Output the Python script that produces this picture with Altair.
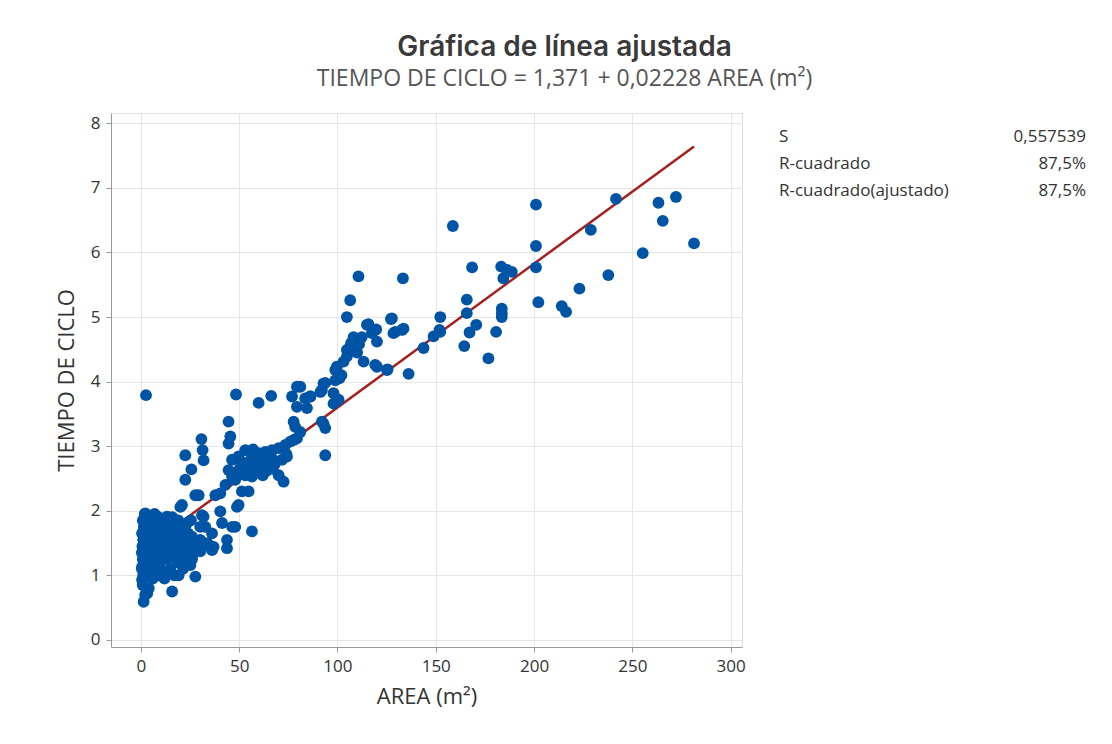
import altair as alt
import pandas as pd

# ---- data ----
area = [
    158.7, 201.0, 241.7, 263.3, 272.2, 265.5, 228.9, 281.4, 201.0, 255.3,
    168.5, 183.3, 186.2, 188.7, 184.4, 201.0, 237.8, 223.1, 202.2, 214.1,
    216.3, 165.8, 165.8, 183.6, 183.6, 183.6, 170.6, 167.2, 180.7, 164.5,
    176.8, 152.3, 152.3, 143.8, 148.9, 151.9,
    110.7, 133.3, 106.5, 104.8, 127.2, 115.8, 119.7, 129.4, 133.6, 108.2,
    112.4, 117.5, 120.1, 106.5, 104.8, 104.8, 103.1, 99.7, 98.9, 113.3,
    119.2, 125.5, 136.2, 93.8, 92.1, 98.0, 98.0, 86.2, 84.5, 81.1, 92.9,
    115.0, 119.2, 127.7, 128.5, 132.8, 120.1, 125.2, 101.0, 102.0, 107.0,
    109.0, 111.0, 110.0,
    48.4, 59.9, 66.3, 79.4, 76.9, 79.4, 83.6, 86.2, 92.9, 98.9, 100.6,
    91.3, 77.7, 78.5, 81.1, 79.4, 92.1, 93.8, 93.8, 44.6, 45.5, 44.6,
    53.1, 49.7, 46.4, 56.5, 59.9, 63.3, 66.7, 70.1, 73.5, 76.0, 74.3,
    71.8, 53.1, 56.5, 59.9, 63.3, 66.7, 49.7, 53.1, 56.5, 48.0, 46.4,
    72.6, 70.1, 51.4, 54.8, 49.7, 44.6, 43.0, 55.0, 58.0, 61.0, 65.0,
    68.0, 62.0, 51.0, 57.0, 60.0, 64.0, 67.0, 74.0, 78.0,
    2.6, 22.6, 25.7, 22.6, 30.8, 31.4, 31.9, 29.4, 37.9, 40.4,
    40.4, 48.9, 48.0, 56.5, 43.8, 43.8, 37.0, 36.2, 31.9, 30.2, 27.7,
    15.9, 1.4, 20.1, 23.5, 27.7, 20.9, 31.1, 26.0, 28.6, 30.2, 33.7,
    22.6, 25.2, 11.6, 19.2, 3.2, 0.6, 0.6, 2.3, 4.8, 8.2, 13.3, 16.7,
    32.8, 36.2, 41.3, 46.4, 34.5, 26.0, 30.2, 24.3,
    0.5, 0.8, 1.0, 1.2, 0.6, 1.5, 1.0, 2.0, 1.8, 0.9, 2.2, 1.5, 3.0,
    3.5, 2.8, 4.0, 4.5, 3.8, 5.0, 5.5, 6.0, 6.5, 5.8, 7.0, 7.5, 8.0,
    8.5, 9.0, 9.5, 10.0, 10.5, 11.0, 11.5, 12.0, 12.5, 13.0, 13.5, 14.0,
    14.5, 15.0, 15.5, 16.0, 16.5, 17.0, 17.5, 18.0, 18.5, 19.0, 19.5,
    20.0, 21.0, 21.5, 22.0, 23.0, 24.0, 24.5, 25.5, 26.0, 27.0, 9.0,
    12.0, 6.0, 4.0, 2.5, 3.0, 8.0, 10.0, 14.0, 16.0, 18.0, 20.0, 7.0,
    2.0, 1.2, 0.5,
]
tiempo = [
    6.41, 6.74, 6.83, 6.77, 6.86, 6.49, 6.35, 6.14, 6.10, 5.99,
    5.77, 5.78, 5.73, 5.70, 5.60, 5.77, 5.65, 5.44, 5.23, 5.17,
    5.08, 5.27, 5.06, 5.13, 5.06, 5.00, 4.88, 4.76, 4.77, 4.55,
    4.36, 5.00, 4.77, 4.52, 4.70, 4.80,
    5.63, 5.60, 5.26, 5.00, 4.97, 4.89, 4.81, 4.77, 4.82, 4.69,
    4.69, 4.75, 4.62, 4.54, 4.49, 4.39, 4.31, 4.23, 4.18, 4.31,
    4.26, 4.19, 4.12, 3.98, 3.87, 3.82, 3.66, 3.77, 3.59, 3.92, 3.35,
    4.88, 4.80, 4.98, 4.75, 4.80, 4.23, 4.18, 4.05, 4.10, 4.60,
    4.62, 4.58, 4.45,
    3.80, 3.67, 3.78, 3.92, 3.77, 3.61, 3.74, 3.77, 3.97, 4.02, 3.72,
    3.84, 3.38, 3.30, 3.22, 3.12, 3.38, 3.28, 2.86, 3.38, 3.15, 3.04,
    2.94, 2.84, 2.79, 2.84, 2.89, 2.91, 2.94, 2.97, 3.02, 3.07, 2.84,
    2.79, 2.74, 2.68, 2.74, 2.79, 2.81, 2.63, 2.55, 2.53, 2.48, 2.53,
    2.45, 2.55, 2.30, 2.30, 2.09, 2.63, 2.40, 2.62, 2.60, 2.65, 2.70,
    2.72, 2.55, 2.70, 2.95, 2.78, 2.62, 2.65, 2.88, 3.10,
    3.79, 2.86, 2.64, 2.48, 3.11, 2.94, 2.78, 2.24, 2.24, 2.27,
    1.99, 2.06, 1.75, 1.68, 1.55, 1.42, 1.44, 1.39, 1.91, 1.75, 0.98,
    0.75, 0.59, 2.06, 1.81, 2.24, 2.09, 1.93, 1.60, 1.44, 1.55, 1.50,
    1.21, 1.16, 0.98, 1.00, 0.72, 1.13, 0.93, 1.96, 1.91, 1.86, 1.91, 1.86,
    1.75, 1.65, 1.81, 1.75, 1.47, 1.29, 1.37, 1.44,
    1.35, 1.45, 1.25, 1.55, 1.65, 1.75, 1.85, 1.95, 1.05, 0.85, 0.70, 1.15, 1.40,
    1.60, 1.80, 1.25, 1.90, 1.00, 1.50, 1.70, 1.35, 1.85, 1.10, 1.55, 1.25, 1.75,
    1.45, 1.90, 1.15, 1.60, 1.35, 1.80, 1.05, 1.50, 1.70, 1.25, 1.90, 1.40,
    1.60, 1.10, 1.80, 1.30, 1.55, 1.00, 1.70, 1.45, 1.20, 1.85, 1.60,
    1.35, 1.75, 1.10, 1.55, 1.30, 1.65, 1.45, 1.85, 1.25, 1.55, 1.00,
    0.95, 0.95, 0.80, 1.55, 1.70, 1.15, 1.25, 1.75, 1.90, 1.60, 1.50, 1.95,
    1.30, 1.00, 1.10,
]
intercept = 1.371
slope = 0.02228
x_ticks = [0, 50, 100, 150, 200, 250, 300]
y_ticks = [0, 1, 2, 3, 4, 5, 6, 7, 8]
stat_labels = ["S", "R-cuadrado", "R-cuadrado(ajustado)"]
stat_values = ["0,557539", "87,5%", "87,5%"]

n = min(len(area), len(tiempo))
pts = pd.DataFrame({"AREA": area[:n], "TIEMPO": tiempo[:n]})
xmin, xmax = min(area), max(area)
fit = pd.DataFrame({"AREA": [xmin, xmax],
                    "TIEMPO": [intercept + slope * xmin, intercept + slope * xmax]})

FONT = "Open Sans"
xs = alt.Scale(domain=[-15.2, 305.8], nice=False, zero=False)
ys = alt.Scale(domain=[-0.11, 8.16], nice=False, zero=False)

def make_axis(title):
    return alt.Axis(title=title, values=x_ticks if title.startswith("AREA") else y_ticks,
                    format="d", grid=True, gridColor="#e6e6e6", domainColor="#9a9a9a",
                    tickColor="#9a9a9a", tickSize=5, labelFontSize=17,
                    labelColor="#333333", labelFont=FONT, titleFont=FONT,
                    titleFontSize=22, titleFontWeight="normal", titleColor="#333333",
                    titlePadding=12, labelPadding=6)

line = alt.Chart(fit).mark_line(color="#A3201F", strokeWidth=2.5).encode(
    x=alt.X("AREA:Q", scale=xs, axis=make_axis("AREA (m²)")),
    y=alt.Y("TIEMPO:Q", scale=ys, axis=make_axis("TIEMPO DE CICLO")),
)
points = alt.Chart(pts).mark_point(filled=True, shape="circle", size=140,
                                   color="#0054A6", opacity=1).encode(
    x=alt.X("AREA:Q", scale=xs),
    y=alt.Y("TIEMPO:Q", scale=ys),
)

layers = [line, points]
one = pd.DataFrame({"k": [0]})
for i, (lab, val) in enumerate(zip(stat_labels, stat_values)):
    yy = 24 + i * 27
    layers.append(alt.Chart(one).mark_text(align="left", baseline="middle", fontSize=17,
                                           font=FONT, color="#333333").encode(
        x=alt.value(668), y=alt.value(yy), text=alt.value(lab)))
    layers.append(alt.Chart(one).mark_text(align="right", baseline="middle", fontSize=17,
                                           font=FONT, color="#333333").encode(
        x=alt.value(975), y=alt.value(yy), text=alt.value(val)))

chart = alt.layer(*layers).properties(
    width=631, height=534,
    title=alt.TitleParams(
        text="Gráfica de línea ajustada",
        subtitle="TIEMPO DE CICLO = 1,371 + 0,02228 AREA (m²)",
        anchor="middle", dx=138, font="Inter", fontSize=28, fontWeight=600,
        color="#3a3a3a", subtitleFont=FONT, subtitleFontSize=23,
        subtitleColor="#555555", subtitlePadding=6, offset=22,
    ),
    padding={"left": 103, "top": 105, "right": 360, "bottom": 80},
    autosize=alt.AutoSizeParams(type="none"),
).configure_view(stroke="#c8c8c8", strokeWidth=1).configure(background="white")

chart.save("out.html", embed_options={"renderer": "svg", "actions": False})
